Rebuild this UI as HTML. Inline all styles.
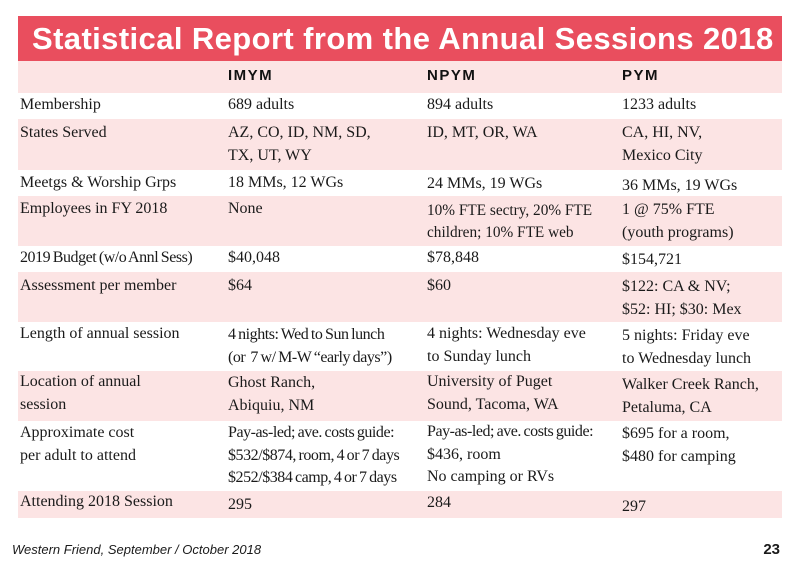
<!DOCTYPE html>
<html><head><meta charset="utf-8"><style>
body{margin:0;width:800px;height:571px;background:#fff;position:relative;overflow:hidden;font-family:"Liberation Serif",serif;color:#1a1a1a}
.t{position:absolute;font-size:16px;line-height:22.5px;white-space:nowrap}
.c{letter-spacing:-0.45px;word-spacing:-1px}
.r{position:absolute;left:18px;width:764px}
.p{background:#fce4e4}
.h{position:absolute;font-family:"Liberation Sans",sans-serif;font-weight:bold;font-size:15px;letter-spacing:1.5px;top:67px;color:#111}
</style></head><body>
<div style="position:absolute;left:18px;top:16px;width:764px;height:45px;background:#e94e5e"></div>
<div style="position:absolute;left:32px;top:16px;height:45px;line-height:45px;color:#fff;font-family:'Liberation Sans',sans-serif;font-weight:bold;font-size:31px;letter-spacing:0.4px;white-space:nowrap">Statistical Report from the Annual Sessions 2018</div>
<div class="r p" style="top:61px;height:32px"></div>
<div class="r p" style="top:119px;height:51px"></div>
<div class="r p" style="top:196px;height:50px"></div>
<div class="r p" style="top:272px;height:50px"></div>
<div class="r p" style="top:371px;height:50px"></div>
<div class="r p" style="top:491px;height:27px"></div>
<div class="h" style="left:228px">IMYM</div>
<div class="h" style="left:427px">NPYM</div>
<div class="h" style="left:622px">PYM</div>

<div class="t" style="left:20px;top:94px">Membership</div>
<div class="t" style="left:228px;top:94px">689 adults</div>
<div class="t" style="left:427px;top:94px">894 adults</div>
<div class="t" style="left:622px;top:94px">1233 adults</div>

<div class="t" style="left:20px;top:122px">States Served</div>
<div class="t" style="left:228px;top:122px">AZ, CO, ID, NM, SD,<br>TX, UT, WY</div>
<div class="t" style="left:427px;top:122px">ID, MT, OR, WA</div>
<div class="t" style="left:622px;top:122px">CA, HI, NV,<br>Mexico City</div>

<div class="t" style="left:20px;top:172px">Meetgs &amp; Worship Grps</div>
<div class="t" style="left:228px;top:172px">18 MMs, 12 WGs</div>
<div class="t" style="left:427px;top:173px">24 MMs, 19 WGs</div>
<div class="t" style="left:622px;top:175px">36 MMs, 19 WGs</div>

<div class="t" style="left:20px;top:198px">Employees in FY 2018</div>
<div class="t" style="left:228px;top:198px">None</div>
<div class="t" style="left:427px;top:200px;font-size:15.3px;line-height:22px">10% FTE sectry, 20% FTE<br>children; 10% FTE web</div>
<div class="t" style="left:622px;top:199px">1 @ 75% FTE<br>(youth programs)</div>

<div class="t" style="left:20px;top:247px"><span class="c">2019 Budget (w/o Annl Sess)</span></div>
<div class="t" style="left:228px;top:247px">$40,048</div>
<div class="t" style="left:427px;top:247px">$78,848</div>
<div class="t" style="left:622px;top:249px">$154,721</div>

<div class="t" style="left:20px;top:275px">Assessment per member</div>
<div class="t" style="left:228px;top:275px">$64</div>
<div class="t" style="left:427px;top:275px">$60</div>
<div class="t" style="left:622px;top:276px">$122: CA &amp; NV;<br>$52: HI; $30: Mex</div>

<div class="t" style="left:20px;top:323px">Length of annual session</div>
<div class="t" style="left:228px;top:324px"><span class="c">4 nights: Wed to Sun lunch</span><br><span class="c">(or&nbsp; 7 w/ M-W “early days”)</span></div>
<div class="t" style="left:427px;top:323px">4 nights: Wednesday eve<br>to Sunday lunch</div>
<div class="t" style="left:622px;top:325px">5 nights: Friday eve<br>to Wednesday lunch</div>

<div class="t" style="left:20px;top:371px">Location of annual<br>session</div>
<div class="t" style="left:228px;top:372px">Ghost Ranch,<br>Abiquiu, NM</div>
<div class="t" style="left:427px;top:371px">University of Puget<br>Sound, Tacoma, WA</div>
<div class="t" style="left:622px;top:374px">Walker Creek Ranch,<br>Petaluma, CA</div>

<div class="t" style="left:20px;top:422px">Approximate cost<br>per adult to attend</div>
<div class="t" style="left:228px;top:422px"><span class="c">Pay-as-led; ave. costs guide:</span><br><span class="c">$532/$874, room, 4 or 7 days</span><br><span class="c">$252/$384 camp, 4 or 7 days</span></div>
<div class="t" style="left:427px;top:421px"><span class="c">Pay-as-led; ave. costs guide:</span><br>$436, room<br>No camping or RVs</div>
<div class="t" style="left:622px;top:423px">$695 for a room,<br>$480 for camping</div>

<div class="t" style="left:20px;top:491px">Attending 2018 Session</div>
<div class="t" style="left:228px;top:494px">295</div>
<div class="t" style="left:427px;top:492px">284</div>
<div class="t" style="left:622px;top:496px">297</div>

<div style="position:absolute;left:12px;top:542px;font-family:'Liberation Sans',sans-serif;font-style:italic;font-size:13px">Western Friend, September / October 2018</div>
<div style="position:absolute;right:20px;top:541px;font-family:'Liberation Sans',sans-serif;font-weight:bold;font-size:15px">23</div>
</body></html>
